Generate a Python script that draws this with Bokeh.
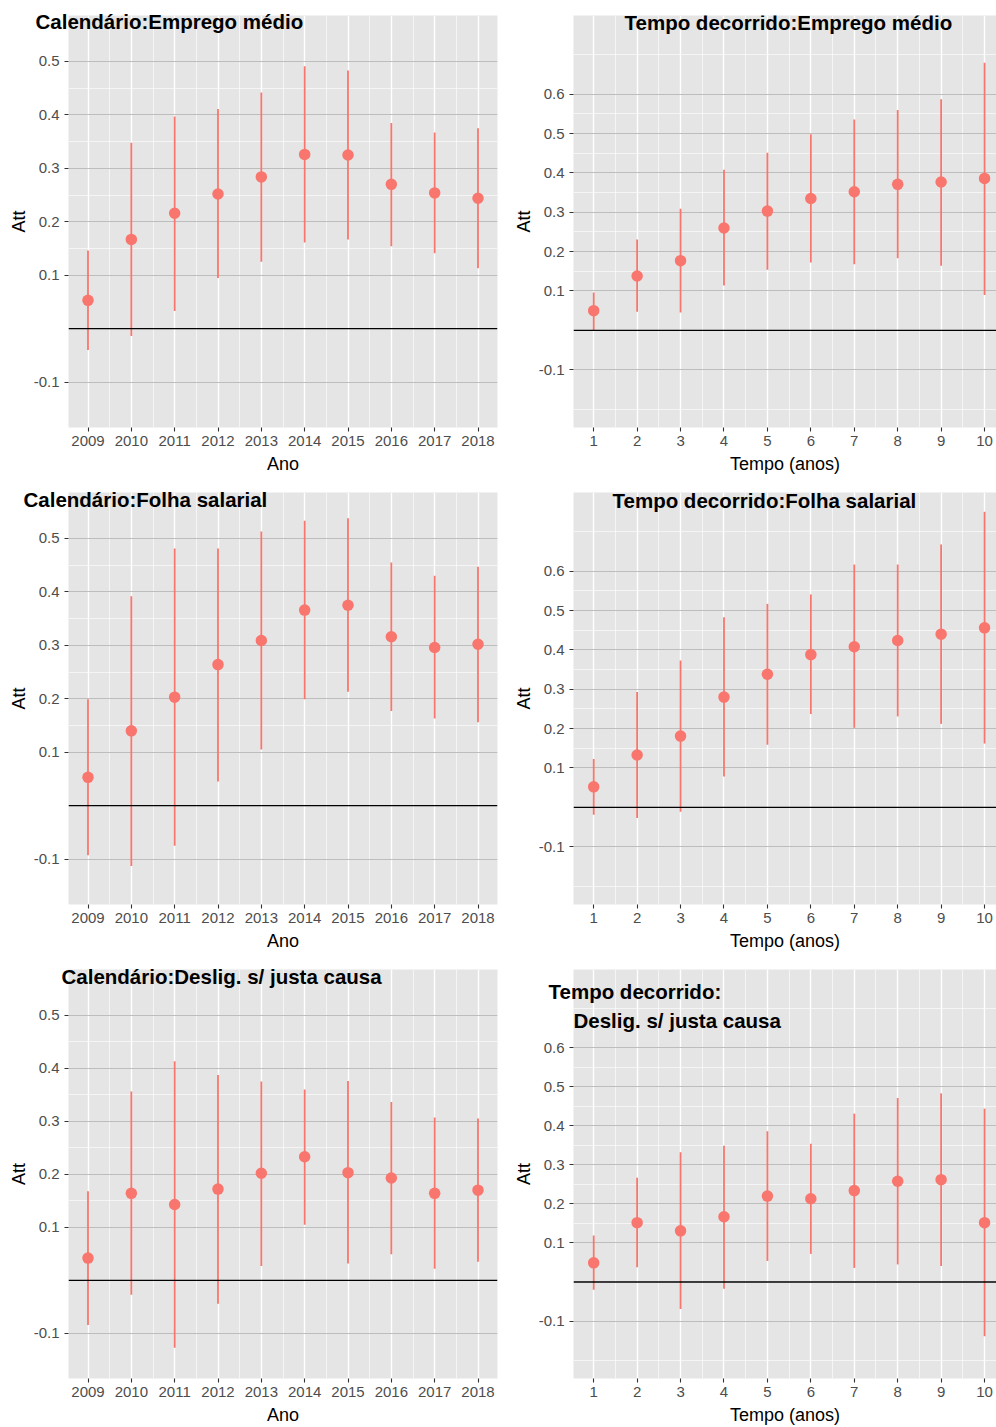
from bokeh.plotting import figure
from bokeh.models import Range1d, FixedTicker, Span, Label, Title, ColumnDataSource
from bokeh.layouts import gridplot
from bokeh.embed import file_html
from bokeh.resources import INLINE

# ---------------- data ----------------
cal_years = [2009, 2010, 2011, 2012, 2013, 2014, 2015, 2016, 2017, 2018]
tempo_anos = [1, 2, 3, 4, 5, 6, 7, 8, 9, 10]

cal_yticks = [-0.1, 0.1, 0.2, 0.3, 0.4, 0.5]
tmp_yticks = [-0.1, 0.1, 0.2, 0.3, 0.4, 0.5, 0.6]
cal_yminor = [0.0, 0.15, 0.25, 0.35, 0.45]
tmp_yminor = [-0.2, 0.0, 0.15, 0.25, 0.35, 0.45, 0.55, 0.7]

emp_cal_att = [0.053, 0.167, 0.216, 0.252, 0.284, 0.326, 0.325, 0.270, 0.254, 0.244]
emp_cal_lo = [-0.040, -0.014, 0.033, 0.095, 0.125, 0.161, 0.167, 0.154, 0.141, 0.113]
emp_cal_hi = [0.146, 0.348, 0.397, 0.411, 0.442, 0.491, 0.483, 0.385, 0.367, 0.375]

emp_tmp_att = [0.050, 0.138, 0.177, 0.260, 0.303, 0.335, 0.352, 0.371, 0.377, 0.386]
emp_tmp_lo = [-0.001, 0.047, 0.045, 0.114, 0.154, 0.172, 0.168, 0.183, 0.164, 0.090]
emp_tmp_hi = [0.096, 0.231, 0.309, 0.408, 0.451, 0.498, 0.536, 0.560, 0.587, 0.680]

fol_cal_att = [0.053, 0.140, 0.203, 0.264, 0.309, 0.366, 0.375, 0.316, 0.296, 0.302]
fol_cal_lo = [-0.093, -0.113, -0.075, 0.045, 0.105, 0.199, 0.213, 0.177, 0.163, 0.156]
fol_cal_hi = [0.199, 0.392, 0.481, 0.481, 0.513, 0.533, 0.538, 0.455, 0.430, 0.447]

fol_tmp_att = [0.052, 0.133, 0.181, 0.280, 0.338, 0.388, 0.408, 0.424, 0.440, 0.456]
fol_tmp_lo = [-0.019, -0.027, -0.011, 0.078, 0.159, 0.237, 0.202, 0.231, 0.212, 0.162]
fol_tmp_hi = [0.123, 0.293, 0.373, 0.483, 0.517, 0.541, 0.617, 0.617, 0.668, 0.751]

des_cal_att = [0.042, 0.164, 0.143, 0.172, 0.202, 0.233, 0.203, 0.193, 0.164, 0.170]
des_cal_lo = [-0.084, -0.027, -0.127, -0.044, 0.027, 0.105, 0.032, 0.049, 0.022, 0.035]
des_cal_hi = [0.168, 0.356, 0.413, 0.387, 0.375, 0.360, 0.376, 0.336, 0.307, 0.305]

des_tmp_att = [0.049, 0.152, 0.131, 0.167, 0.220, 0.213, 0.234, 0.258, 0.262, 0.152]
des_tmp_lo = [-0.020, 0.038, -0.069, -0.017, 0.054, 0.072, 0.036, 0.045, 0.041, -0.139]
des_tmp_hi = [0.119, 0.267, 0.332, 0.349, 0.386, 0.354, 0.431, 0.471, 0.483, 0.444]

# ---------------- style ----------------
FONT = "Liberation Sans"
RED = "#F8766D"
BG = "#E5E5E5"
TSIZE = 20.5
FH = 22.8      # font-metric height of the title font
DESC = 4.3     # descent of the title font
FTOP = 15      # frame top inside every figure


def make_panel(kind, att, lo, hi, titles, height, bbottom):
    if kind == "cal":
        xs = cal_years
        xr = Range1d(2008.55, 2018.45)
        yr = Range1d(-0.185, 0.586)
        yt, ym = cal_yticks, cal_yminor
        width, bleft, bright = 500, 68, 3
        xlabel = "Ano"
    else:
        xs = tempo_anos
        xr = Range1d(0.535, 10.275)
        yr = Range1d(-0.247, 0.80)
        yt, ym = tmp_yticks, tmp_yminor
        width, bleft, bright = 496, 73, 0
        xlabel = "Tempo (anos)"
    xm = [(a + b) / 2 for a, b in zip(xs[:-1], xs[1:])]

    uses_title = any(t[0] == "title" for t in titles)
    p = figure(width=width, height=height, x_range=xr, y_range=yr,
               output_backend="svg", toolbar_location=None,
               min_border_left=bleft, min_border_right=bright,
               min_border_top=0 if uses_title else FTOP,
               min_border_bottom=bbottom)
    p.background_fill_color = BG
    p.border_fill_color = "white"
    p.outline_line_color = None

    xtk = FixedTicker(ticks=xs, minor_ticks=xm)
    ytk = FixedTicker(ticks=yt, minor_ticks=ym)
    p.xaxis.ticker = xtk
    p.yaxis.ticker = ytk
    p.xgrid.ticker = xtk
    p.ygrid.ticker = ytk
    p.yaxis.major_label_overrides = {v: str(v) for v in yt}

    p.xgrid.grid_line_color = "white"
    p.xgrid.grid_line_width = 1.4
    p.xgrid.minor_grid_line_color = "white"
    p.xgrid.minor_grid_line_width = 0.6
    p.ygrid.grid_line_color = "#BDBDBD"
    p.ygrid.grid_line_width = 1.0
    p.ygrid.minor_grid_line_color = "white"
    p.ygrid.minor_grid_line_width = 0.6

    for ax in (p.xaxis, p.yaxis):
        ax.axis_line_color = None
        ax.major_tick_line_color = "#333333"
        ax.major_tick_line_width = 1.1
        ax.major_tick_out = 4
        ax.major_tick_in = 0
        ax.minor_tick_line_color = None
        ax.major_label_text_font = FONT
        ax.major_label_text_font_size = "15px"
        ax.major_label_text_color = "#4D4D4D"
        ax.axis_label_text_font = FONT
        ax.axis_label_text_font_size = "18px"
        ax.axis_label_text_font_style = "normal"
        ax.axis_label_text_color = "black"
    p.xaxis.axis_label = xlabel
    p.yaxis.axis_label = "Att"
    p.xaxis.major_label_standoff = 4
    p.xaxis.axis_label_standoff = 5
    p.yaxis.major_label_standoff = 5
    p.yaxis.axis_label_standoff = 2

    src = ColumnDataSource(dict(x=xs, att=att, lo=lo, hi=hi))
    p.segment(x0="x", y0="lo", x1="x", y1="hi", source=src,
              line_color=RED, line_width=1.8)
    p.scatter(x="x", y="att", source=src, marker="circle", size=11.5,
              fill_color=RED, line_color=None)

    p.add_layout(Span(location=0, dimension="width", line_color="black",
                      line_width=1.3))

    for tkind, text, xo, gap in titles:
        if tkind == "title":
            # title lives in the top border; its text hangs down over the frame
            s = -2.0 * (gap + DESC)
            block = FTOP - 2 - s
            lh = block / FH - 1.0
            t = Title(text="\n" + text, align="left", offset=xo, standoff=s,
                      vertical_align="bottom", text_font=FONT,
                      text_font_size=f"{TSIZE}px", text_font_style="bold",
                      text_color="black", text_line_height=lh)
            p.add_layout(t, "above")
        else:
            # gap = distance from frame top to the text's middle
            p.add_layout(Label(x=xr.start, y=yr.end, x_offset=xo, y_offset=-gap,
                               text=text, text_font=FONT,
                               text_font_size=f"{TSIZE}px",
                               text_font_style="bold", text_color="black",
                               text_baseline="middle", text_align="left"))
    return p


# "title": gap = frame top -> baseline ; "label": gap = frame top -> text middle
p1 = make_panel("cal", emp_cal_att, emp_cal_lo, emp_cal_hi,
                [("title", "Calendário:Emprego médio", -33, 13.5)], 477, 50)
p2 = make_panel("tmp", emp_tmp_att, emp_tmp_lo, emp_tmp_hi,
                [("label", "Tempo decorrido:Emprego médio", 51, 7.2)], 477, 50)
p3 = make_panel("cal", fol_cal_att, fol_cal_lo, fol_cal_hi,
                [("title", "Calendário:Folha salarial", -45, 14.0)], 476, 49)
p4 = make_panel("tmp", fol_tmp_att, fol_tmp_lo, fol_tmp_hi,
                [("label", "Tempo decorrido:Folha salarial", 39, 7.5)], 476, 49)
p5 = make_panel("cal", des_cal_att, des_cal_lo, des_cal_hi,
                [("title", "Calendário:Deslig. s/ justa causa", -7, 14.5)], 474, 47)
p6 = make_panel("tmp", des_tmp_att, des_tmp_lo, des_tmp_hi,
                [("title", "Tempo decorrido:", -25, 29.2),
                 ("label", "Deslig. s/ justa causa", 0, 50.5)], 474, 47)

grid = gridplot([[p1, p2], [p3, p4], [p5, p6]], toolbar_location=None)

open("out.html", "w").write(file_html(grid, INLINE))
